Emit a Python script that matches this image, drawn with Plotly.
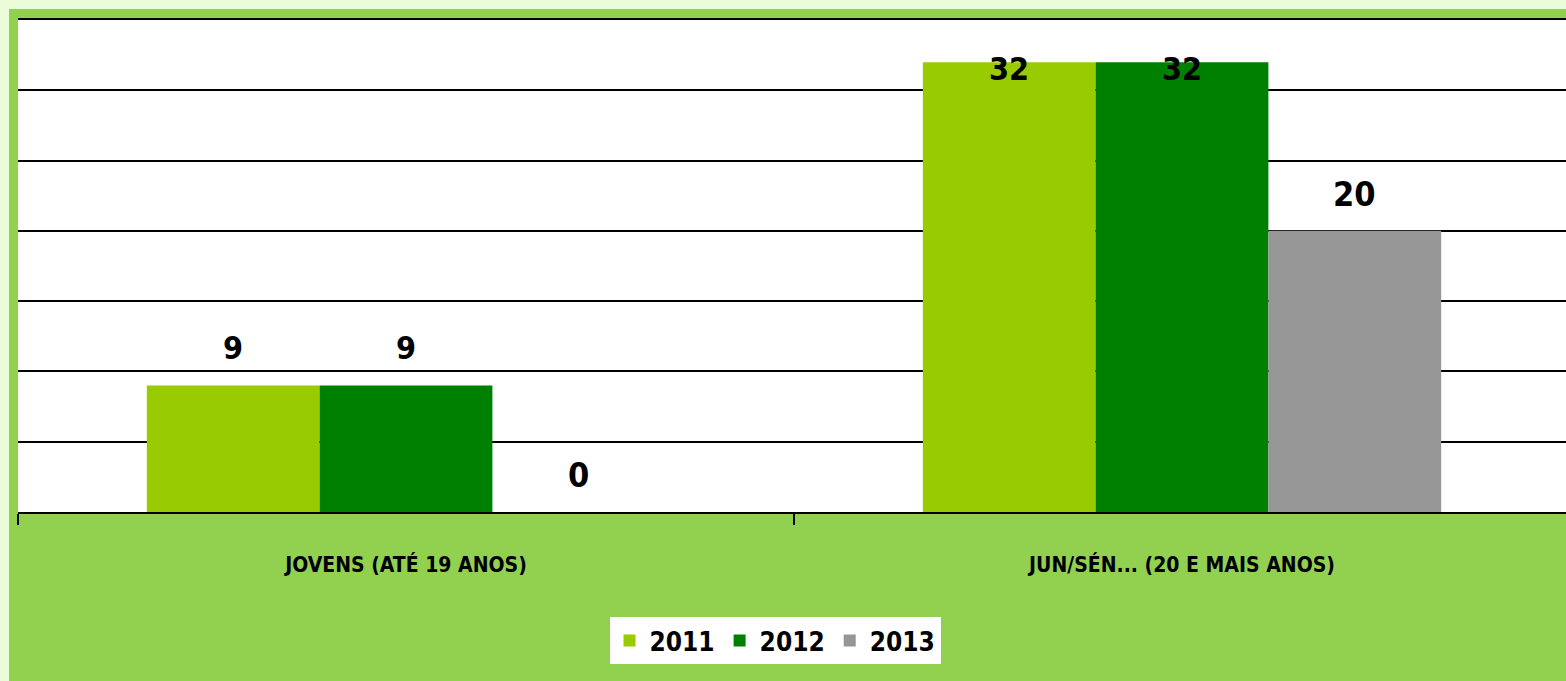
import plotly.graph_objects as go
import numpy as np

categories = ["JOVENS (ATÉ 19 ANOS)", "JUN/SÉN... (20 E MAIS ANOS)"]
years = ["2011", "2012", "2013"]
values_2011 = [9, 32]
values_2012 = [9, 32]
values_2013 = [0, 20]
colors = ["#99CC00", "#008000", "#969696"]

series = [values_2011, values_2012, values_2013]

W, H = 1566, 681
ml, mr, mt, mb = 18, 0, 20, 169
pw, ph = W - ml - mr, H - mt - mb
YMAX = 35
BARGAP = 0.332
FONT = "DejaVu Sans Condensed, Liberation Sans Narrow, sans-serif"

fig = go.Figure()
for name, vals, col in zip(years, series, colors):
    fig.add_trace(go.Bar(x=categories, y=vals, name=name, marker=dict(color=col, line=dict(width=0))))

# data labels (Excel style: above bar, pushed inside the plot if it would overflow)
w = (1 - BARGAP) / 3
px_per_unit = ph / YMAX
off = 37 / px_per_unit
top_lim = YMAX - 48.5 / px_per_unit
annotations = []
for i, vals in enumerate(series):
    for j, v in enumerate(vals):
        ylab = min(v + off, top_lim)
        annotations.append(dict(
            x=j + (i - 1) * w, y=ylab, xref="x", yref="y", text=str(v),
            showarrow=False, yanchor="middle", xanchor="center",
            font=dict(family=FONT, size=34 if i == 2 else 32, color="black", weight="bold")))

# light outer strips (top and left)
lx = lambda px: (px - ml) / pw
ly = lambda py: (H - mb - py) / ph
shapes = [
    dict(type="rect", xref="paper", yref="paper", x0=lx(0), x1=lx(W), y0=ly(9), y1=ly(0),
         fillcolor="#EAFCD8", line=dict(width=0), layer="below"),
    dict(type="rect", xref="paper", yref="paper", x0=lx(0), x1=lx(9), y0=ly(H), y1=ly(0),
         fillcolor="#EAFCD8", line=dict(width=0), layer="below"),
]

fig.update_layout(
    width=W, height=H,
    margin=dict(l=ml, r=mr, t=mt, b=mb, pad=0),
    paper_bgcolor="#92D050", plot_bgcolor="white",
    barmode="group", bargap=BARGAP, bargroupgap=0,
    annotations=annotations, shapes=shapes,
    showlegend=True,
    legend=dict(orientation="h", x=lx(775), xanchor="center", y=ly(617), yanchor="top",
                bgcolor="white", font=dict(family=FONT, size=26, color="black", weight="bold"),
                itemwidth=30, tracegroupgap=0),
)
fig.update_xaxes(range=[-0.5, -0.5 + pw / 776], showline=True, mirror=True,
                 linecolor="black", linewidth=2,
                 ticks="outside", tickson="boundaries", ticklen=11, tickwidth=2, tickcolor="black",
                 ticklabelstandoff=33, showgrid=False,
                 tickfont=dict(family=FONT, size=21, color="black", weight="bold"))
fig.update_yaxes(range=[0, YMAX], dtick=5, showgrid=True, gridcolor="black", gridwidth=2,
                 showticklabels=False, zeroline=False, showline=False, ticks="")

fig.write_html("out.html", config={"displayModeBar": False},
               post_script="document.body.style.margin='0';document.body.style.overflow='hidden';")
